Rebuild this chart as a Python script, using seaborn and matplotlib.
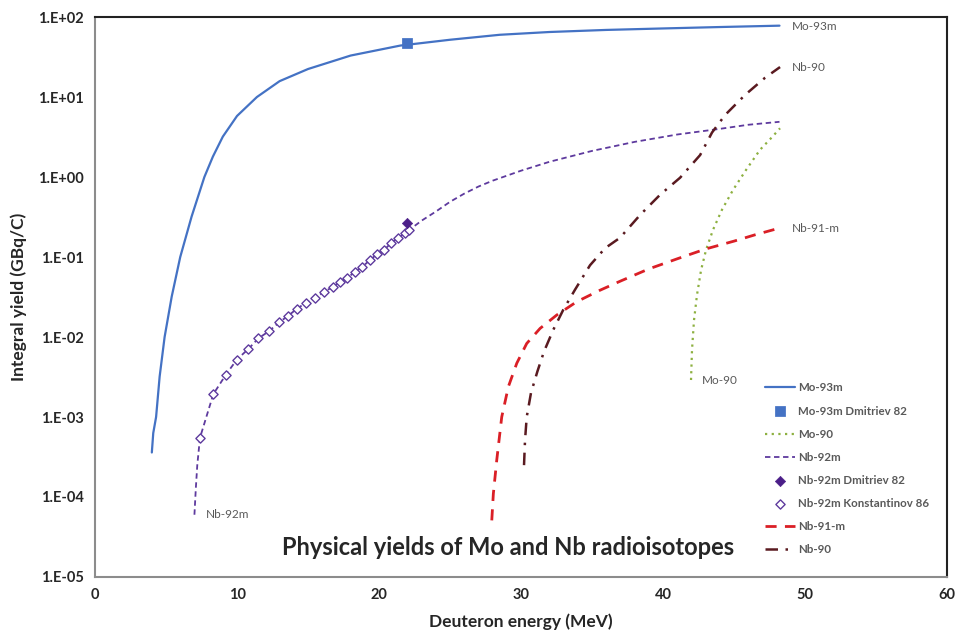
import numpy as np
import pandas as pd
import seaborn as sns
import matplotlib.pyplot as plt
from matplotlib.ticker import FixedLocator, FuncFormatter

# Physical yields of Mo and Nb radioisotopes vs deuteron energy

mo93m_e = [4.0, 4.1, 4.3, 4.55, 4.9, 5.4, 6.0, 6.8, 7.7, 8.3, 9.0, 10.0, 11.4, 13.0, 15.0,
           18.0, 21.5, 25.0, 28.5, 32.0, 36.0, 40.0, 44.0, 48.2]
mo93m_y = [3.6e-4, 6.3e-4, 1.0e-3, 3.2e-3, 0.01, 0.032, 0.1, 0.32, 1.0, 1.8, 3.2, 5.8, 10,
           15.8, 22.4, 33, 44, 52, 60, 65, 69, 72, 75, 78]

mo93m_dm_e = [22.0]
mo93m_dm_y = [47]

mo90_e = [41.97, 42.04, 42.18, 42.39, 42.68, 43.03, 43.52, 44.15, 44.93, 45.85, 46.83,
          47.68, 48.24]
mo90_y = [2.9e-3, 6.9e-3, 0.0162, 0.0335, 0.069, 0.123, 0.219, 0.39, 0.69, 1.23, 2.19,
          3.16, 4.07]

nb92m_e = [7.0, 7.1, 7.2, 7.39, 8.33, 9.2, 9.98, 10.8, 11.5, 12.27, 12.98, 13.61, 14.2,
           14.84, 15.49, 16.13, 16.74, 17.25, 17.73, 18.31, 18.82, 19.37, 19.84, 20.35,
           20.82, 21.36, 21.83, 22.13, 23.0, 24.0, 25.0, 26.0, 27.0, 28.0, 30.0, 32.0,
           35.0, 38.0, 41.0, 44.0, 46.0, 48.2]
nb92m_y = [6e-5, 1.3e-4, 2.5e-4, 5.5e-4, 1.93e-3, 3.35e-3, 5.2e-3, 7.1e-3, 9.6e-3, 0.0119,
           0.0153, 0.0185, 0.0224, 0.0268, 0.0305, 0.0368, 0.0422, 0.049, 0.054, 0.0655,
           0.0756, 0.0917, 0.108, 0.122, 0.148, 0.174, 0.198, 0.218, 0.285, 0.37, 0.49,
           0.62, 0.76, 0.9, 1.2, 1.55, 2.12, 2.75, 3.4, 4.0, 4.5, 4.9]

nb92m_dm_e = [22.0]
nb92m_dm_y = [0.264]

nb92m_ko_e = [7.39, 8.33, 9.2, 9.98, 10.8, 11.5, 12.27, 12.98, 13.61, 14.2, 14.84, 15.49,
              16.13, 16.74, 17.25, 17.73, 18.31, 18.82, 19.37, 19.84, 20.35, 20.82, 21.36,
              21.83, 22.13]
nb92m_ko_y = [5.5e-4, 1.93e-3, 3.35e-3, 5.2e-3, 7.1e-3, 9.6e-3, 0.0119, 0.0153, 0.0185,
              0.0224, 0.0268, 0.0305, 0.0368, 0.0422, 0.049, 0.054, 0.0655, 0.0756, 0.0917,
              0.108, 0.122, 0.148, 0.174, 0.198, 0.218]

nb91m_e = [27.94, 28.05, 28.29, 28.64, 29.11, 29.7, 30.4, 31.34, 32.51, 33.92, 35.5, 37.0,
           39.0, 41.0, 43.0, 45.0, 46.5, 48.2]
nb91m_y = [5.1e-5, 1.1e-4, 2.9e-4, 1.0e-3, 2.4e-3, 4.7e-3, 8.3e-3, 0.0128, 0.0188, 0.0276,
           0.038, 0.05, 0.071, 0.095, 0.126, 0.158, 0.19, 0.23]

nb90_e = [30.21, 30.28, 30.4, 30.7, 31.15, 31.62, 32.27, 32.98, 33.8, 34.86, 35.92, 36.97,
          38.38, 39.79, 41.2, 42.61, 43.45, 44.37, 45.77, 47.18, 48.24]
nb90_y = [2.5e-4, 5.1e-4, 1.0e-3, 2.0e-3, 3.7e-3, 6.6e-3, 0.0123, 0.022, 0.039, 0.079,
          0.129, 0.174, 0.335, 0.6, 0.98, 1.88, 3.6, 5.96, 10.6, 17.4, 23.7]

x_ticks = [0, 10, 20, 30, 40, 50, 60]
y_ticks = [1e-5, 1e-4, 1e-3, 1e-2, 1e-1, 1e0, 1e1, 1e2]

sns.set_style("white")
plt.rcParams['font.family'] = ['Lato', 'DejaVu Sans']

fig = plt.figure(figsize=(9.57, 6.31), dpi=100)
ax = fig.add_axes([0.0993, 0.0856, 0.8903, 0.8874])

c_mo93 = "#4472C4"
c_mo90 = "#8DB040"
c_nb92 = "#5E3A9E"
c_nb91 = "#DA1F26"
c_nb90 = "#5A1A20"

sns.lineplot(x=mo93m_e, y=mo93m_y, ax=ax, color=c_mo93, lw=1.6, sort=False,
             estimator=None, label="Mo-93m")
sns.scatterplot(x=mo93m_dm_e, y=mo93m_dm_y, ax=ax, color=c_mo93, marker="s", s=45,
                edgecolor=c_mo93, label="Mo-93m Dmitriev 82", zorder=5)
sns.lineplot(x=mo90_e, y=mo90_y, ax=ax, color=c_mo90, lw=1.6, sort=False,
             estimator=None, label="Mo-90", linestyle=(0, (1, 2)))
sns.lineplot(x=nb92m_e, y=nb92m_y, ax=ax, color=c_nb92, lw=1.3, sort=False,
             estimator=None, label="Nb-92m", linestyle=(0, (3, 2)))
sns.scatterplot(x=nb92m_dm_e, y=nb92m_dm_y, ax=ax, color="#4B1E88", marker="D", s=28,
                edgecolor="#4B1E88", label="Nb-92m Dmitriev 82", zorder=5)
sns.scatterplot(x=nb92m_ko_e, y=nb92m_ko_y, ax=ax, color="white", marker="D", s=22,
                edgecolor=c_nb92, linewidth=1.0, label="Nb-92m Konstantinov 86", zorder=4)
sns.lineplot(x=nb91m_e, y=nb91m_y, ax=ax, color=c_nb91, lw=2.0, sort=False,
             estimator=None, label="Nb-91-m", linestyle=(0, (4, 3)))
sns.lineplot(x=nb90_e, y=nb90_y, ax=ax, color=c_nb90, lw=1.8, sort=False,
             estimator=None, label="Nb-90", linestyle=(0, (5, 3, 1, 3)))

ax.set_yscale("log")
ax.set_xlim(0, 60)
ax.set_ylim(1e-5, 1e2)
ax.xaxis.set_major_locator(FixedLocator(x_ticks))
ax.yaxis.set_major_locator(FixedLocator(y_ticks))
ax.yaxis.set_minor_locator(FixedLocator([]))
ax.yaxis.set_major_formatter(FuncFormatter(lambda v, p: "1.E{:+03d}".format(int(round(np.log10(v))))))
ax.tick_params(length=0, labelsize=10.5, pad=8)
for lab in ax.get_xticklabels() + ax.get_yticklabels():
    lab.set_fontweight("bold")

for side in ["left", "bottom"]:
    ax.spines[side].set_color("#8C8C8C")
    ax.spines[side].set_linewidth(1.5)
for side in ["top", "right"]:
    ax.spines[side].set_color("#222222")
    ax.spines[side].set_linewidth(1.5)

ax.set_xlabel("Deuteron energy (MeV)", fontsize=12.5, fontweight="bold", labelpad=8)
ax.set_ylabel("Integral yield (GBq/C)", fontsize=12.5, fontweight="bold", labelpad=8)

lab_kw = dict(fontsize=8.5, color="#595959", va="center", ha="left")
ax.text(49.1, 77, "Mo-93m", **lab_kw)
ax.text(49.1, 23.7, "Nb-90", **lab_kw)
ax.text(49.1, 0.23, "Nb-91-m", **lab_kw)
ax.text(42.7, 2.9e-3, "Mo-90", **lab_kw)
ax.text(7.8, 6e-5, "Nb-92m", **lab_kw)

ax.text(0.485, 0.052, "Physical yields of Mo and Nb radioisotopes", transform=ax.transAxes,
        fontsize=17, fontweight="bold", ha="center", va="center")

handles, labels = ax.get_legend_handles_labels()
leg = ax.legend(handles, labels, loc="upper left", bbox_to_anchor=(0.774, 0.366),
                frameon=False, fontsize=8.3, labelspacing=1.05, handlelength=2.6,
                handletextpad=0.3)
for t in leg.get_texts():
    t.set_color("#595959")
    t.set_fontweight("bold")

fig.savefig("out.png", dpi=100)
